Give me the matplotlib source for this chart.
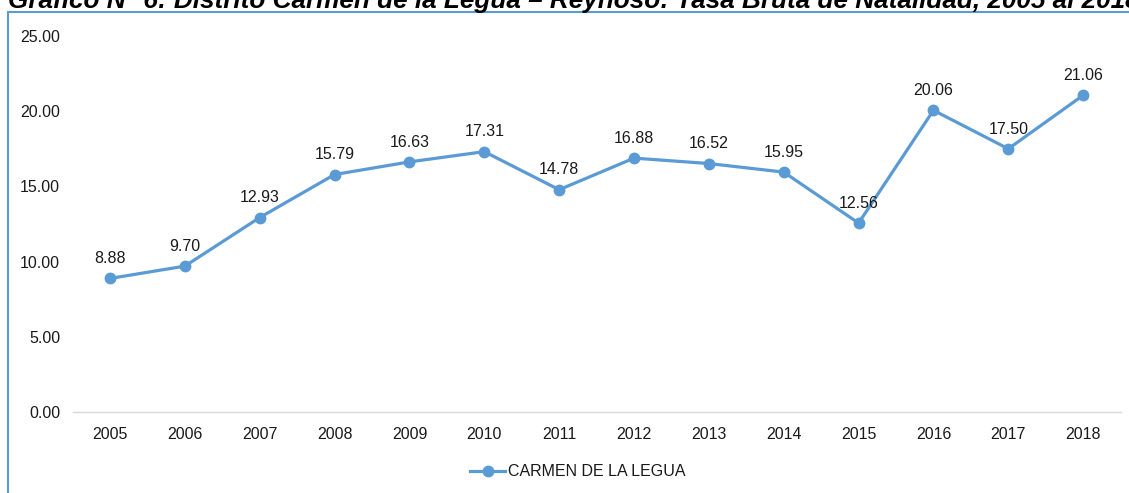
import matplotlib
matplotlib.use("Agg")
import matplotlib.pyplot as plt
from matplotlib.patches import Rectangle

years = ["2005", "2006", "2007", "2008", "2009", "2010", "2011", "2012", "2013", "2014", "2015", "2016", "2017", "2018"]
values = [8.88, 9.70, 12.93, 15.79, 16.63, 17.31, 14.78, 16.88, 16.52, 15.95, 12.56, 20.06, 17.50, 21.06]
yticks = [0, 5, 10, 15, 20, 25]
series_name = "CARMEN DE LA LEGUA"
title = "Gráfico N° 6: Distrito Carmen de la Legua – Reynoso: Tasa Bruta de Natalidad, 2005 al 2018"

plt.rcParams['font.family'] = ['Liberation Sans', 'DejaVu Sans']
fs = 11.5

W, H = 1129, 493
fig = plt.figure(figsize=(W / 100, H / 100), dpi=100)
ax = fig.add_axes([72.6 / W, 1 - 412 / H, (1120.6 - 72.6) / W, (412 - 36) / H])

color = "#5B9BD5"
tc = "#1a1a1a"
x = list(range(len(years)))
ax.plot(x, values, color=color, lw=2.3, marker="o", ms=7.5, label=series_name, zorder=3)
for xi, v in zip(x, values):
    ax.annotate(f"{v:.2f}", (xi, v), xytext=(0, 11), textcoords="offset points",
                ha="center", va="baseline", fontsize=fs, color=tc)

ax.set_xlim(-0.5, len(years) - 0.5)
ax.set_ylim(0, 25)
ax.set_yticks(yticks)
ax.set_yticklabels([f"{t:.2f}" for t in yticks])
ax.set_xticks(x)
ax.set_xticklabels(years)
ax.tick_params(axis="both", length=0, labelsize=fs, labelcolor=tc)
ax.tick_params(axis="y", pad=9)
ax.tick_params(axis="x", pad=11)
for s in ["top", "right", "left"]:
    ax.spines[s].set_visible(False)
ax.spines["bottom"].set_color("#d9d9d9")
ax.spines["bottom"].set_linewidth(1)

leg = ax.legend(loc="center", bbox_to_anchor=(578 / W, 1 - 472 / H), bbox_transform=fig.transFigure,
                frameon=False, fontsize=fs, handlelength=2.2, handletextpad=0.2)
for t in leg.get_texts():
    t.set_color(tc)

# chart border (partially outside the image)
fig.patches.append(Rectangle((8 / W, -0.1), 1.2, 1 - 12 / H + 0.1, transform=fig.transFigure,
                             fill=False, edgecolor="#5B9BD5", lw=1.5, clip_on=False))

# title, cut by the top edge as in the reference; fit to its visible width
tt = fig.text(8 / W, 1 - 8 / H, title, fontsize=14, fontweight="bold", fontstyle="italic",
              ha="left", va="baseline", color="black")
fig.canvas.draw()
wpx = tt.get_window_extent().width
tt.set_fontsize(14 * 1134 / wpx)

fig.savefig("out.png", dpi=100)
